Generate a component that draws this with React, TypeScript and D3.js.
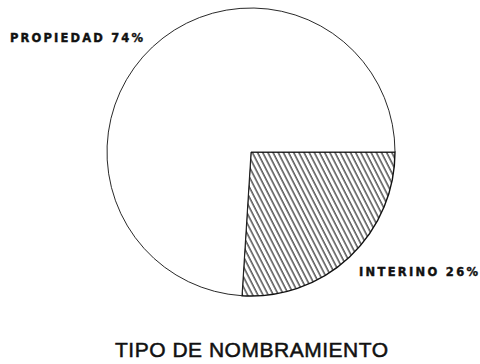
import * as d3 from "d3";

const categories = ["INTERINO", "PROPIEDAD"];
const shares = [26, 74];
const title = "TIPO DE NOMBRAMIENTO";

const width = 480;
const height = 364;
const cx = 251;
const cy = 152;
const radius = 144;

export default function App() {
  const pie = d3
    .pie<number>()
    .sort(null)
    .startAngle(Math.PI / 2)
    .endAngle(Math.PI / 2 + 2 * Math.PI)
    .value((d) => d);
  const arcs = pie(shares);
  const arc = d3.arc<d3.PieArcDatum<number>>().innerRadius(0).outerRadius(radius);

  const labelFont = {
    fontFamily: "DejaVu Sans, Verdana, sans-serif",
    fontWeight: "bold" as const,
    fontSize: 11.5,
    fill: "#111",
    stroke: "#111",
    strokeWidth: 0.4,
  };

  return (
    <svg
      width={width}
      height={height}
      style={{ position: "absolute", left: 0, top: 0, background: "#fff" }}
    >
      <defs>
        <pattern
          id="hatch"
          patternUnits="userSpaceOnUse"
          width="4.6"
          height="10"
          patternTransform="rotate(-27)"
        >
          <line x1="1" y1="0" x2="1" y2="10" stroke="#111" strokeWidth="1.1" />
        </pattern>
      </defs>
      <g transform={`translate(${cx},${cy})`}>
        {arcs.map((a, i) => (
          <path
            key={categories[i]}
            d={arc(a) || ""}
            fill={i === 0 ? "url(#hatch)" : "#fff"}
            stroke="#111"
            strokeWidth={i === 0 ? 1.4 : 0.9}
            strokeLinejoin="round"
          />
        ))}
      </g>
      <text x={10} y={42} textLength={133} lengthAdjust="spacing" {...labelFont}>
        {`${categories[1]} ${shares[1]}%`}
      </text>
      <text x={359} y={276} textLength={119} lengthAdjust="spacing" {...labelFont}>
        {`${categories[0]} ${shares[0]}%`}
      </text>
      <text
        x={115}
        y={357}
        fontFamily="Liberation Sans, Arial, sans-serif"
        fontSize={21}
        textLength={273}
        lengthAdjust="spacing"
        fill="#111"
        stroke="#111"
        strokeWidth={0.5}
      >
        {title}
      </text>
    </svg>
  );
}
